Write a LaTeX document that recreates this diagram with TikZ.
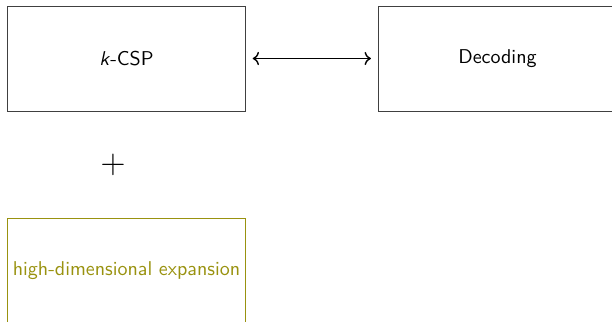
\documentclass[tikz,border=0pt]{standalone}
\usepackage{fontspec}
\usetikzlibrary{arrows.meta}
\begin{document}
\begin{tikzpicture}[x=0.5pt,y=-0.5pt,
  font=\sffamily,
  blockbox/.style={draw=black!75, line width=0.45pt, minimum width=119pt, minimum height=52.5pt, inner sep=0pt, outer sep=0pt},
  hdxbox/.style={blockbox, draw=olive!90, text=olive!90},
  link/.style={<->, line width=0.7pt, shorten <=3.6pt, shorten >=3.8pt}]
\useasboundingbox (0,0) rectangle (612,322);
\node[blockbox] (csp) at (126.5,58.5) {\textit{k}-CSP};
\node[blockbox] (dec) at (497.5,58.5) {Decoding};
\node[font=\LARGE] (plus) at (113,165) {$+$};
\node[hdxbox] (hdx) at (126.5,270.5) {high-dimensional expansion};
\draw[link] (csp.east) -- (dec.west);
\end{tikzpicture}
\end{document}
